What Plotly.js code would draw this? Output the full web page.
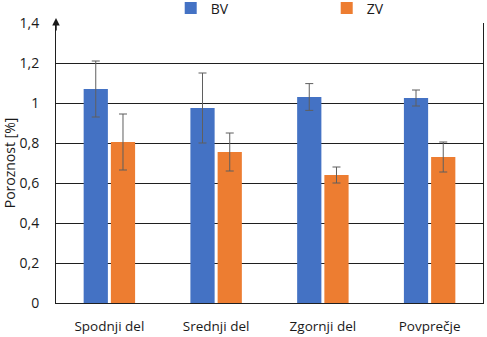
<!DOCTYPE html>
<html><head><meta charset="utf-8">
<script src="https://cdn.plot.ly/plotly-3.0.1.min.js"></script>
<style>html,body{margin:0;padding:0;background:#fff}#c{width:487px;height:337px}</style>
</head><body><div id="c"></div>
<script>
const categories = ["Spodnji del", "Srednji del", "Zgornji del", "Povprečje"];
const bvValues = [1.07, 0.975, 1.03, 1.025];
const bvErrors = [0.14, 0.175, 0.067, 0.04];
const zvValues = [0.805, 0.755, 0.64, 0.73];
const zvErrors = [0.14, 0.095, 0.04, 0.075];
const seriesNames = ["BV", "ZV"];

const errStyle = {type: 'data', visible: true, color: '#5f5f5f', thickness: 1, width: 4};
const traces = [
  {type: 'bar', name: seriesNames[0], x: categories, y: bvValues,
   marker: {color: '#4472C4'}, error_y: Object.assign({array: bvErrors}, errStyle)},
  {type: 'bar', name: seriesNames[1], x: categories, y: zvValues,
   marker: {color: '#ED7D31'}, error_y: Object.assign({array: zvErrors}, errStyle)}
];
const font = {family: '"Open Sans", sans-serif', size: 14, color: '#1a1a1a'};
const layout = {
  width: 487, height: 337,
  margin: {l: 56, r: 4, t: 23, b: 34, autoexpand: false},
  separators: ',.',
  font: font,
  paper_bgcolor: '#fff', plot_bgcolor: '#fff',
  barmode: 'group', bargap: 0.49, bargroupgap: 0.11,
  showlegend: true,
  legend: {orientation: 'h', x: 0.634, xanchor: 'center', xref: 'paper',
           y: 1.052, yref: 'paper', yanchor: 'middle',
           entrywidth: 111, entrywidthmode: 'pixels', font: {size: 14, color: '#1a1a1a'},
           itemclick: false, bgcolor: 'rgba(0,0,0,0)'},
  xaxis: {showline: true, linecolor: '#1f1f1f', linewidth: 1, ticks: '', ticklabelstandoff: 11,
          showgrid: false, tickfont: {size: 13.5}, automargin: false},
  yaxis: {range: [0, 1.4], dtick: 0.2, tick0: 0, showline: true, mirror: true, linecolor: '#1f1f1f', linewidth: 1,
          showgrid: true, gridcolor: '#1f1f1f', gridwidth: 1, zeroline: false, ticks: '',
          ticklabelstandoff: 13, tickfont: {size: 14}, automargin: false,
          title: {text: 'Poroznost [%]', font: {size: 14}, standoff: 8}},
  annotations: [{x: 0, xref: 'paper', y: 1.4, yref: 'y', yshift: 5, ax: 0, ay: 14, showarrow: true,
                 arrowhead: 2, arrowsize: 1, arrowwidth: 1.5, arrowcolor: '#1a1a1a', text: ''}]
};
Plotly.newPlot('c', traces, layout, {displayModeBar: false, staticPlot: true});
</script></body></html>
